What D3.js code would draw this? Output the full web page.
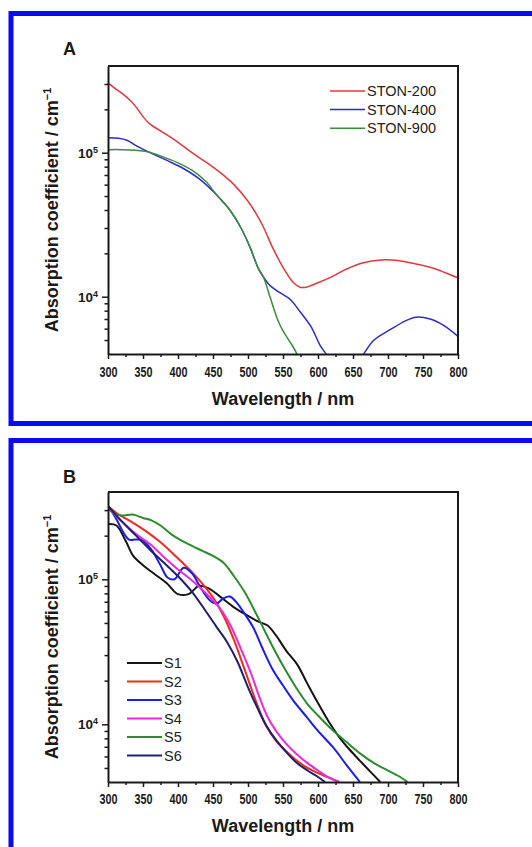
<!DOCTYPE html>
<html><head><meta charset="utf-8">
<script src="https://cdn.jsdelivr.net/npm/d3@7/dist/d3.min.js"></script>
<style>body{margin:0;background:#fff}svg{display:block}</style>
</head><body>
<svg id="c" width="532" height="847"></svg>
<script>
// ---------- data ----------
const xTicks = [300,350,400,450,500,550,600,650,700,750,800];
const xMinor = [325,375,425,475,525,575,625,675,725,775];
const yTicks = [1e4, 1e5];
const yMinor = [5000,6000,7000,8000,9000,20000,30000,40000,50000,60000,70000,80000,90000,200000,300000];

// Panel A
const ston200Wl = [300,310,320,330,340,350,360,380,400,420,440,460,480,500,512,522,535,550,565,575,585,600,620,640,665,690,705,730,760,780,800];
const ston200   = [3.05e5,2.8e5,2.58e5,2.35e5,2.08e5,1.78e5,1.58e5,1.37e5,1.18e5,1.0e5,8.6e4,7.3e4,6.0e4,4.6e4,3.75e4,3.05e4,2.2e4,1.6e4,1.25e4,1.16e4,1.17e4,1.25e4,1.38e4,1.55e4,1.72e4,1.8e4,1.8e4,1.73e4,1.6e4,1.48e4,1.35e4];
const ston400Wl = [300,315,327,340,360,385,407,430,455,474,490,503,514,522,531,545,560,575,590,603,613,625,640,652,665,680,703,725,740,760,780,800];
const ston400   = [1.27e5,1.26e5,1.22e5,1.12e5,1.0e5,8.8e4,7.8e4,6.6e4,5.1e4,4.0e4,3.0e4,2.2e4,1.6e4,1.37e4,1.2e4,1.07e4,9.6e3,7.8e3,6.2e3,4.6e3,3.9e3,3.1e3,2.9e3,3.3e3,4.0e3,5.0e3,5.9e3,6.8e3,7.2e3,7.0e3,6.3e3,5.3e3];
const ston900Wl = [300,320,340,355,375,400,421,440,455,474,490,503,514,522,530,536,543,549,556,563,570];
const ston900   = [1.05e5,1.05e5,1.04e5,1.02e5,9.5e4,8.5e4,7.5e4,6.3e4,5.1e4,4.0e4,3.0e4,2.2e4,1.6e4,1.37e4,1.05e4,8.5e3,6.8e3,5.9e3,5.2e3,4.6e3,4.0e3];
const seriesA = ["STON-200","STON-400","STON-900"];

// Panel B
const s1Wl = [300,312,325,336,350,365,384,400,415,430,445,460,480,500,515,528,540,555,570,585,600,615,630,645,660,675,689];
const s1   = [2.4e5,2.35e5,1.85e5,1.45e5,1.25e5,1.1e5,9.4e4,7.9e4,7.9e4,9.0e4,8.6e4,7.6e4,6.4e4,5.6e4,5.1e4,4.8e4,4.1e4,3.2e4,2.6e4,1.9e4,1.4e4,1.05e4,8.2e3,6.7e3,5.6e3,4.7e3,4.0e3];
const s2Wl = [300,315,330,345,360,375,390,405,420,435,450,465,480,495,510,525,540,555,570,585,600,615,630];
const s2   = [3.2e5,2.8e5,2.55e5,2.3e5,2.05e5,1.8e5,1.55e5,1.32e5,1.12e5,9.3e4,7.5e4,5.6e4,3.8e4,2.4e4,1.5e4,1.0e4,7.7e3,6.5e3,5.6e3,5.0e3,4.6e3,4.3e3,4.0e3];
const s3Wl = [300,312,322,330,340,350,362,375,385,395,408,420,432,445,455,465,474,485,495,507,520,535,550,565,584,600,622,640,660];
const s3   = [3.2e5,2.6e5,2.1e5,1.88e5,1.88e5,1.85e5,1.6e5,1.25e5,1.03e5,1.0e5,1.2e5,1.1e5,8.8e4,7.2e4,6.8e4,7.4e4,7.6e4,6.8e4,5.8e4,4.7e4,3.4e4,2.4e4,1.85e4,1.45e4,1.12e4,9.0e3,6.9e3,5.3e3,4.0e3];
const s4Wl = [300,320,340,360,380,400,420,440,460,475,490,505,515,527,540,555,570,585,600,615,630];
const s4   = [3.1e5,2.5e5,2.05e5,1.75e5,1.42e5,1.17e5,9.8e4,8.0e4,6.3e4,4.8e4,3.3e4,2.2e4,1.6e4,1.15e4,9.0e3,7.3e3,6.2e3,5.4e3,4.8e3,4.3e3,4.0e3];
const s5Wl = [300,310,320,335,350,362,375,390,405,420,435,450,465,480,495,510,525,540,555,570,585,600,620,640,660,680,700,715,728];
const s5   = [3.2e5,2.85e5,2.75e5,2.8e5,2.65e5,2.55e5,2.35e5,2.05e5,1.85e5,1.7e5,1.57e5,1.45e5,1.3e5,1.05e5,8.2e4,6.0e4,4.3e4,3.1e4,2.3e4,1.75e4,1.38e4,1.15e4,9.2e3,7.6e3,6.3e3,5.4e3,4.8e3,4.4e3,4.0e3];
const s6Wl = [300,320,340,360,380,400,420,440,455,470,485,500,515,527,540,555,570,585,598,610];
const s6   = [3.2e5,2.5e5,2.0e5,1.6e5,1.3e5,1.05e5,8.2e4,6.0e4,4.7e4,3.7e4,2.7e4,1.8e4,1.25e4,9.6e3,7.8e3,6.4e3,5.4e3,4.8e3,4.4e3,4.0e3];
const seriesB = ["S1","S2","S3","S4","S5","S6"];

// ---------- drawing ----------
const svg = d3.select("#c");
const FONT = "'Liberation Sans', Arial, Helvetica, sans-serif";

// blue frames
svg.append("rect").attr("x",11).attr("y",13.5).attr("width",560).attr("height",410)
  .attr("fill","none").attr("stroke","#0a0af5").attr("stroke-width",5);
svg.append("rect").attr("x",11).attr("y",440.5).attr("width",560).attr("height",450)
  .attr("fill","none").attr("stroke","#0a0af5").attr("stroke-width",5);

function zip(w, v){ return w.map((d,i)=>[d, v[i]]); }

function panel(cfg){
  const left=108, right=458, top=cfg.top, bottom=cfg.bottom;
  const g = svg.append("g");
  const x = d3.scaleLinear().domain([300,800]).range([left,right]);
  const y = d3.scaleLog().domain([4000,4e5]).range([bottom,top]);

  const clipId = "clip"+cfg.label;
  svg.append("clipPath").attr("id",clipId).append("rect")
    .attr("x",left).attr("y",top).attr("width",right-left).attr("height",bottom-top);

  const line = d3.line().x(d=>x(d[0])).y(d=>y(d[1])).curve(d3.curveCatmullRom.alpha(0.5));
  const lg = g.append("g").attr("clip-path","url(#"+clipId+")");
  cfg.series.forEach(s=>{
    lg.append("path").datum(s.data).attr("d",line).attr("fill","none")
      .attr("stroke",s.color).attr("stroke-width",cfg.lw).attr("stroke-linejoin","round");
  });

  // frame top/right
  g.append("path").attr("d",`M${left},${top}H${right}V${bottom}`)
    .attr("fill","none").attr("stroke","#1a1a1a").attr("stroke-width",2);

  // x axis
  const xa = g.append("g").attr("transform",`translate(0,${bottom})`)
    .call(d3.axisBottom(x).tickValues(xTicks).tickSize(5).tickSizeOuter(0));
  xa.select(".domain").attr("stroke","#1a1a1a").attr("stroke-width",2);
  xa.selectAll(".tick line").attr("stroke","#1a1a1a").attr("stroke-width",1.5);
  xa.selectAll(".tick text").attr("y",cfg.xLabOff).attr("dy",null)
    .attr("font-family",FONT).attr("font-weight","bold").attr("font-size",15)
    .attr("fill","#1a1a1a").attr("textLength",18).attr("lengthAdjust","spacingAndGlyphs");
  const xm = g.append("g").attr("transform",`translate(0,${bottom})`)
    .call(d3.axisBottom(x).tickValues(xMinor).tickSize(3).tickFormat(""));
  xm.select(".domain").remove();
  xm.selectAll(".tick line").attr("stroke","#1a1a1a").attr("stroke-width",1.5);

  // y axis
  const ya = g.append("g").attr("transform",`translate(${left},0)`)
    .call(d3.axisLeft(y).tickValues(yTicks).tickSize(6).tickSizeOuter(0).tickFormat(""));
  ya.select(".domain").attr("stroke","#1a1a1a").attr("stroke-width",2);
  ya.selectAll(".tick line").attr("stroke","#1a1a1a").attr("stroke-width",1.5);
  ya.selectAll(".tick").each(function(d){
    const t = d3.select(this).append("text").attr("x",-10).attr("y",4.5)
      .attr("text-anchor","end").attr("font-family",FONT).attr("font-weight","bold")
      .attr("font-size",13.5).attr("fill","#1a1a1a");
    t.append("tspan").text("10");
    t.append("tspan").attr("dy",-5).attr("font-size",9).text(Math.round(Math.log10(d)));
  });
  const ym = g.append("g").attr("transform",`translate(${left},0)`)
    .call(d3.axisLeft(y).tickValues(yMinor).tickSize(3.5).tickFormat(""));
  ym.select(".domain").remove();
  ym.selectAll(".tick line").attr("stroke","#1a1a1a").attr("stroke-width",1.5);

  // titles
  g.append("text").attr("x",(left+right)/2).attr("y",bottom+cfg.xTitleOff)
    .attr("text-anchor","middle").attr("font-family",FONT).attr("font-weight","bold")
    .attr("font-size",18).attr("fill","#1a1a1a").text("Wavelength / nm");
  const yt = g.append("text").attr("transform",`translate(58,${(top+bottom)/2}) rotate(-90)`)
    .attr("text-anchor","middle").attr("font-family",FONT).attr("font-weight","bold")
    .attr("font-size",18).attr("fill","#1a1a1a");
  yt.append("tspan").text("Absorption coefficient / cm");
  yt.append("tspan").attr("dy",-7).attr("font-size",11).text("\u22121");

  g.append("text").attr("x",63).attr("y",cfg.labelY).attr("font-family",FONT)
    .attr("font-weight","bold").attr("font-size",18).attr("fill","#1a1a1a").text(cfg.label);

  // legend
  const leg = g.append("g");
  cfg.series.forEach((s,i)=>{
    const yy = cfg.legY + i*cfg.legDy;
    leg.append("line").attr("x1",cfg.legX).attr("x2",cfg.legX+35).attr("y1",yy).attr("y2",yy)
      .attr("stroke",s.color).attr("stroke-width",cfg.lw);
    leg.append("text").attr("x",cfg.legX+37).attr("y",yy+5).attr("font-family",FONT)
      .attr("font-size",14.5).attr("fill","#222").text(s.name);
  });
}

panel({
  label:"A", top:66, bottom:354, labelY:55, xLabOff:23, xTitleOff:51, lw:1.5,
  legX:330, legY:91, legDy:18.6,
  series:[
    {name:seriesA[0], color:"#e3373f", data:zip(ston200Wl,ston200)},
    {name:seriesA[1], color:"#2b2bcc", data:zip(ston400Wl,ston400)},
    {name:seriesA[2], color:"#3b8c3b", data:zip(ston900Wl,ston900)}
  ]
});
panel({
  label:"B", top:492, bottom:782, labelY:483, xLabOff:22, xTitleOff:50, lw:2,
  legX:127, legY:663, legDy:18.5,
  series:[
    {name:seriesB[0], color:"#151515", data:zip(s1Wl,s1)},
    {name:seriesB[1], color:"#f02a1e", data:zip(s2Wl,s2)},
    {name:seriesB[2], color:"#1c1cf0", data:zip(s3Wl,s3)},
    {name:seriesB[3], color:"#ee2ad8", data:zip(s4Wl,s4)},
    {name:seriesB[4], color:"#2e8b2e", data:zip(s5Wl,s5)},
    {name:seriesB[5], color:"#1f1f70", data:zip(s6Wl,s6)}
  ]
});
</script>
</body></html>
